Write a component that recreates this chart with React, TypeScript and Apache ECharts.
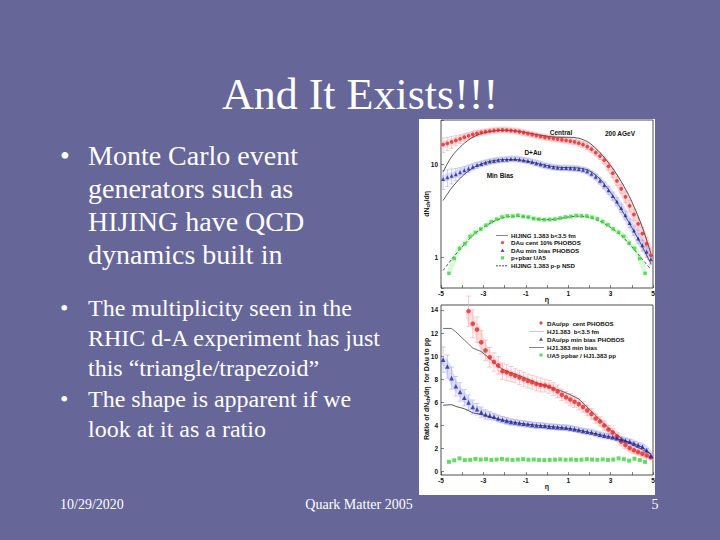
import React, { useEffect, useRef } from "react";
import * as echarts from "echarts";

// ---------- data ----------
const etaFine = [-4.9, -4.7, -4.5, -4.3, -4.1, -3.9, -3.7, -3.5, -3.3, -3.1, -2.9, -2.7, -2.5, -2.3, -2.1, -1.9, -1.7, -1.5, -1.3, -1.1, -0.9, -0.7, -0.5, -0.3, -0.1, 0.1, 0.3, 0.5, 0.7, 0.9, 1.1, 1.3, 1.5, 1.7, 1.9, 2.1, 2.3, 2.5, 2.7, 2.9, 3.1, 3.3, 3.5, 3.7, 3.9, 4.1, 4.3, 4.5, 4.7, 4.9];
const dAuCentral = [16.5, 17.0, 17.6, 18.3, 19.0, 19.8, 20.5, 21.2, 21.8, 22.3, 22.7, 23.1, 23.4, 23.6, 23.7, 23.6, 23.4, 23.1, 22.7, 22.2, 21.7, 21.2, 20.7, 20.2, 19.8, 19.5, 19.2, 18.9, 18.6, 18.3, 18.0, 17.6, 17.1, 16.5, 15.7, 14.7, 13.5, 12.4, 11.2, 9.6, 8.1, 6.7, 5.5, 4.5, 3.6, 2.9, 2.3, 1.8, 1.4, 1.05];
const dAuCentralErr = [3.0, 2.8, 2.6, 2.3, 2.0, 1.8, 1.6, 1.5, 1.4, 1.3, 1.2, 1.2, 1.2, 1.2, 1.2, 1.2, 1.2, 1.2, 1.2, 1.2, 1.1, 1.1, 1.1, 1.1, 1.1, 1.1, 1.1, 1.1, 1.1, 1.1, 1.1, 1.1, 1.1, 1.1, 1.1, 1.0, 1.0, 1.0, 0.9, 0.9, 0.8, 0.7, 0.6, 0.6, 0.5, 0.4, 0.35, 0.3, 0.25, 0.2];
const dAuMinBias = [7.0, 7.3, 7.6, 7.9, 8.3, 8.7, 9.1, 9.5, 9.9, 10.2, 10.5, 10.8, 11.0, 11.2, 11.3, 11.4, 11.5, 11.5, 11.4, 11.2, 11.0, 10.7, 10.4, 10.1, 9.8, 9.6, 9.4, 9.3, 9.2, 9.2, 9.15, 9.1, 9.0, 8.8, 8.5, 8.0, 7.4, 6.7, 6.0, 5.3, 4.6, 4.0, 3.4, 2.85, 2.35, 1.95, 1.6, 1.35, 1.15, 0.95];
const dAuMinBiasErr = [1.6, 1.5, 1.4, 1.2, 1.0, 0.9, 0.8, 0.7, 0.7, 0.6, 0.6, 0.6, 0.6, 0.6, 0.6, 0.6, 0.6, 0.6, 0.6, 0.6, 0.6, 0.6, 0.6, 0.6, 0.5, 0.5, 0.5, 0.5, 0.5, 0.5, 0.5, 0.5, 0.5, 0.5, 0.5, 0.5, 0.5, 0.5, 0.5, 0.5, 0.45, 0.4, 0.35, 0.3, 0.25, 0.22, 0.2, 0.18, 0.15, 0.12];

const etaUA5 = [-4.625, -4.375, -4.125, -3.875, -3.625, -3.375, -3.125, -2.875, -2.625, -2.375, -2.125, -1.875, -1.625, -1.375, -1.125, -0.875, -0.625, -0.375, -0.125, 0.125, 0.375, 0.625, 0.875, 1.125, 1.375, 1.625, 1.875, 2.125, 2.375, 2.625, 2.875, 3.125, 3.375, 3.625, 3.875, 4.125, 4.375, 4.625];
const ppUA5 = [0.67, 0.97, 1.25, 1.40, 1.68, 1.85, 2.02, 2.22, 2.42, 2.58, 2.72, 2.80, 2.78, 2.84, 2.76, 2.72, 2.62, 2.58, 2.55, 2.56, 2.58, 2.65, 2.72, 2.76, 2.82, 2.80, 2.79, 2.70, 2.60, 2.43, 2.24, 2.02, 1.86, 1.68, 1.42, 1.25, 0.97, 0.67];

const etaModel = [-4.9, -4.5, -4.0, -3.5, -3.0, -2.5, -2.0, -1.5, -1.0, -0.5, 0, 0.5, 1.0, 1.5, 2.0, 2.5, 3.0, 3.5, 4.0, 4.5, 4.9];
const hijingCentral = [8.4, 12.2, 16.3, 19.8, 22.0, 23.2, 23.5, 23.2, 22.3, 21.2, 20.3, 19.8, 19.8, 19.3, 17.2, 13.5, 9.8, 6.6, 4.0, 2.1, 1.1];
const hijingMinBias = [4.1, 5.6, 7.5, 9.2, 10.4, 11.1, 11.4, 11.4, 11.0, 10.4, 9.8, 9.4, 9.3, 9.2, 8.6, 7.0, 5.0, 3.3, 2.1, 1.3, 0.85];
const hijingPP = [0.72, 0.95, 1.3, 1.72, 2.1, 2.45, 2.7, 2.78, 2.72, 2.6, 2.55, 2.6, 2.72, 2.78, 2.7, 2.45, 2.1, 1.72, 1.3, 0.95, 0.74];

// ratio panel
const etaRatioCentral = [-3.7, -3.5, -3.3, -3.1, -2.9, -2.7, -2.5, -2.3, -2.1, -1.9, -1.7, -1.5, -1.3, -1.1, -0.9, -0.7, -0.5, -0.3, -0.1, 0.1, 0.3, 0.5, 0.7, 0.9, 1.1, 1.3, 1.5, 1.7, 1.9, 2.1, 2.3, 2.5, 2.7, 2.9, 3.1, 3.3, 3.5, 3.7, 3.9, 4.1, 4.3, 4.5, 4.7, 4.9];
const ratioCentral = [13.9, 12.8, 12.3, 11.2, 10.5, 9.9, 9.5, 9.2, 8.7, 8.6, 8.45, 8.3, 8.15, 8.0, 7.85, 7.75, 7.6, 7.5, 7.45, 7.35, 7.15, 6.95, 6.65, 6.45, 6.25, 6.05, 5.85, 5.6, 5.3, 5.0, 4.6, 4.35, 4.0, 3.65, 3.4, 3.05, 2.6, 2.3, 2.05, 1.85, 1.7, 1.55, 1.4, 1.25];
const ratioCentralErr = [1.3, 1.2, 1.1, 1.0, 0.9, 0.85, 0.8, 0.75, 0.7, 0.7, 0.65, 0.6, 0.6, 0.6, 0.6, 0.6, 0.6, 0.6, 0.55, 0.55, 0.55, 0.55, 0.5, 0.5, 0.5, 0.5, 0.5, 0.45, 0.45, 0.45, 0.4, 0.4, 0.4, 0.35, 0.35, 0.3, 0.3, 0.3, 0.25, 0.25, 0.25, 0.2, 0.2, 0.2];
const ratioMinBias = [9.7, 9.1, 8.1, 7.4, 6.9, 6.4, 6.0, 5.6, 5.4, 5.15, 4.95, 4.85, 4.75, 4.6, 4.5, 4.4, 4.3, 4.25, 4.2, 4.15, 4.1, 4.05, 4.0, 3.98, 3.95, 3.9, 3.88, 3.85, 3.82, 3.8, 3.75, 3.68, 3.6, 3.52, 3.46, 3.4, 3.3, 3.2, 3.12, 3.05, 2.98, 2.9, 2.8, 2.7, 2.6, 2.45, 2.3, 2.15, 1.85, 1.35];
const ratioMinBiasErr = [1.1, 1.0, 0.95, 0.85, 0.8, 0.7, 0.65, 0.6, 0.5, 0.45, 0.4, 0.35, 0.3, 0.3, 0.28, 0.28, 0.26, 0.25, 0.25, 0.25, 0.24, 0.24, 0.24, 0.23, 0.23, 0.23, 0.22, 0.22, 0.22, 0.22, 0.21, 0.21, 0.21, 0.2, 0.2, 0.2, 0.2, 0.2, 0.19, 0.19, 0.19, 0.18, 0.18, 0.18, 0.17, 0.17, 0.16, 0.16, 0.15, 0.15];
const ratioUA5 = [0.85, 0.98, 1.15, 1.0, 1.02, 1.1, 1.05, 1.08, 1.02, 1.05, 1.1, 1.05, 1.02, 1.05, 1.08, 1.03, 1.05, 1.02, 1.0, 1.02, 1.04, 1.06, 1.03, 1.05, 1.02, 1.04, 1.08, 1.05, 1.03, 1.06, 1.02, 1.05, 1.15, 1.08, 0.95, 1.12, 1.0, 0.85];
const etaRatioModel = [-4.9, -4.5, -4.3, -3.9, -3.5, -3.1, -2.7, -2.3, -1.9, -1.5, -1.0, -0.5, 0, 0.5, 1.0, 1.5, 2.0, 2.5, 3.0, 3.5, 4.0, 4.5, 4.9];
const hjRatioCentral = [12.4, 12.4, 12.1, 11.4, 10.7, 10.4, 9.8, 9.1, 8.7, 8.45, 8.1, 7.7, 7.4, 7.1, 6.75, 6.3, 5.4, 4.5, 3.6, 2.9, 2.35, 1.9, 1.55];
const hjRatioMinBias = [5.75, 5.8, 5.65, 5.45, 5.1, 4.95, 4.75, 4.55, 4.4, 4.25, 4.12, 4.02, 3.95, 3.85, 3.75, 3.6, 3.4, 3.2, 3.0, 2.75, 2.5, 2.1, 1.5];

const etaTicks = [-5, -3, -1, 1, 3, 5];
const ratioTicks = [0, 2, 4, 6, 8, 10, 12, 14];

const pairs = (xs: number[], ys: number[]) => xs.map((x, i) => [x, ys[i]]);
const triples = (xs: number[], ys: number[], es: number[]) => xs.map((x, i) => [x, ys[i], es[i]]);

const SERIF = "'Liberation Serif', 'Times New Roman', serif";
const SANS = "'Liberation Sans', Arial, sans-serif";
const RED = "#e4262c";
const BLUE = "#23239a";
const GREEN = "#3ed23e";

// legend icons: drawn inside a (w x 8) box; tiny specks at two corners fix the bounding box
const specks = (w: number) => ` M0,0L0.01,0L0.01,0.01Z M${w},8L${w - 0.01},8L${w - 0.01},7.99Z`;
const solidIcon = (w: number) => `path://M0,4.4L${w},4.4L${w},5.6L0,5.6Z` + specks(w);
const dashIcon = (w: number) => {
  let d = "";
  for (let x = 0; x < w; x += 6) d += `M${x},4.4L${Math.min(x + 4, w)},4.4L${Math.min(x + 4, w)},5.6L${x},5.6Z `;
  return "path://" + d + specks(w);
};
const circleIcon = (w: number, cx: number) => `path://M${cx - 3.4},4A3.4,3.4 0 1,1 ${cx + 3.4},4A3.4,3.4 0 1,1 ${cx - 3.4},4Z` + specks(w);
const triIcon = (w: number, cx: number) => `path://M${cx},0.4L${cx + 4},7.6L${cx - 4},7.6Z` + specks(w);
const rectIcon = (w: number, cx: number) => `path://M${cx - 3.2},0.8L${cx + 3.2},0.8L${cx + 3.2},7.2L${cx - 3.2},7.2Z` + specks(w);

const errorSeries = (name: string, xi: number, data: number[][], color: string, cap: number) => ({
  type: "custom",
  name,
  xAxisIndex: xi,
  yAxisIndex: xi,
  silent: true,
  z: 2,
  data,
  renderItem: (_p: any, api: any) => {
    const x = api.value(0), y = api.value(1), e = api.value(2);
    const top = api.coord([x, y + e]);
    const bot = api.coord([x, y - e]);
    const st = { stroke: color, lineWidth: 0.6 };
    return {
      type: "group",
      children: [
        { type: "line", shape: { x1: top[0], y1: top[1], x2: bot[0], y2: bot[1] }, style: st },
        { type: "line", shape: { x1: top[0] - cap, y1: top[1], x2: top[0] + cap, y2: top[1] }, style: st },
        { type: "line", shape: { x1: bot[0] - cap, y1: bot[1], x2: bot[0] + cap, y2: bot[1] }, style: st },
      ],
    };
  },
});

export default function App() {
  const ref = useRef<HTMLDivElement>(null);
  useEffect(() => {
    if (!ref.current) return;
    const chart = echarts.init(ref.current, undefined, { renderer: "svg" });

    const axisFont = { fontFamily: SANS, fontSize: 6.5, fontWeight: "bold" as const, color: "#111" };
    const tickStyle = { show: true, inside: true, length: 3, lineStyle: { color: "#333", width: 0.6 } };
    const xAxisCommon = (gridIndex: number) => ({
      type: "value" as const,
      gridIndex,
      min: -5,
      max: 5,
      interval: 1,
      axisLine: { show: false, onZero: false },
      splitLine: { show: false },
      axisTick: tickStyle,
      axisLabel: { ...axisFont, margin: 2, customValues: etaTicks },
    });

    const bulletLines1 = ["Monte Carlo event", "generators such as", "HIJING have QCD", "dynamics built in"];
    const bulletLines2a = ["The multiplicity seen in the", "RHIC d-A experiment has just", "this \u201Ctriangle/trapezoid\u201D"];
    const bulletLines2b = ["The shape is apparent if we", "look at it as a ratio"];

    const serifText = (t: string, x: number, y: number, size: number, align = "left") => ({
      type: "text", x, y,
      style: { text: t, fill: "#fff", fontFamily: SERIF, fontSize: size, align, verticalAlign: "middle" },
    });

    const texts: any[] = [];
    texts.push(serifText("And It Exists!!!", 360, 94, 44, "center"));
    const addBullet = (lines: string[], y0: number, step: number, size: number) => {
      texts.push(serifText("\u2022", 60, y0, size));
      lines.forEach((t, i) => texts.push(serifText(t, 88, y0 + i * step, size)));
    };
    addBullet(bulletLines1, 155, 33, 28);
    addBullet(bulletLines2a, 308, 30, 24);
    addBullet(bulletLines2b, 399, 30, 24);
    texts.push(serifText("10/29/2020", 60, 504, 14));
    texts.push(serifText("Quark Matter 2005", 359, 504, 14, "center"));
    texts.push(serifText("5", 655, 504, 14, "center"));

    const plotText = (t: string, x: number, y: number, size = 6.5, align = "center") => ({
      type: "text", x, y, z: 50,
      style: { text: t, fill: "#111", fontFamily: SANS, fontSize: size, fontWeight: "bold", align, verticalAlign: "middle" },
    });

    // rotated axis titles with a subscript "ch"
    const rotatedTitle = (cx: number, cy: number, pre: string, post: string, preW: number, postW: number) => {
      const subW = 5.9;
      const start = -(preW + subW + postW) / 2;
      return {
        type: "group", x: cx, y: cy, rotation: Math.PI / 2, z: 50,
        children: [
          { type: "text", x: start, y: 0, style: { text: pre, fill: "#111", fontFamily: SANS, fontSize: 7, fontWeight: "bold", align: "left", verticalAlign: "middle" } },
          { type: "text", x: start + preW, y: 2, style: { text: "ch", fill: "#111", fontFamily: SANS, fontSize: 5, fontWeight: "bold", align: "left", verticalAlign: "middle" } },
          { type: "text", x: start + preW + subW, y: 0, style: { text: post, fill: "#111", fontFamily: SANS, fontSize: 7, fontWeight: "bold", align: "left", verticalAlign: "middle" } },
        ],
      };
    };

    const legendText = { fontFamily: SANS, fontSize: 6.2, fontWeight: "bold", color: "#111", padding: [0, 0, 0, -2] };

    const option: any = {
      animation: false,
      backgroundColor: "#666699",
      graphic: [
        { type: "rect", z: -10, shape: { x: 419, y: 119, width: 236, height: 376 }, style: { fill: "#ffffff" } },
        ...texts,
        plotText("Central", 561, 132),
        plotText("200 AGeV", 620, 133),
        plotText("D+Au", 533, 152),
        plotText("Min Bias", 500, 175),
        plotText("η", 547, 299, 7),
        plotText("η", 547, 486, 7),
        rotatedTitle(426, 204, "dN", "/dη", 9.4, 10.4),
        rotatedTitle(426, 390, "Ratio of dN", "/dη  for DAu to pp", 37.3, 57),
      ],
      grid: [
        { left: 441, top: 120, width: 212, height: 168, show: true, borderColor: "#222", borderWidth: 0.8, backgroundColor: "transparent" },
        { left: 441, top: 305, width: 212, height: 170, show: true, borderColor: "#222", borderWidth: 0.8, backgroundColor: "transparent" },
      ],
      xAxis: [xAxisCommon(0), xAxisCommon(1)],
      yAxis: [
        {
          type: "log", gridIndex: 0, logBase: 10, min: 0.466, max: 30.4,
          axisLine: { show: false, onZero: false }, splitLine: { show: false },
          axisTick: tickStyle,
          axisLabel: {
            ...axisFont, margin: 3,
            formatter: (v: number) => (Math.abs(v - 1) < 1e-6 ? "1" : Math.abs(v - 10) < 1e-5 ? "10" : ""),
          },
        },
        {
          type: "value", gridIndex: 1, min: -0.29, max: 14.43,
          axisLine: { show: false, onZero: false }, splitLine: { show: false },
          axisTick: { ...tickStyle, customValues: ratioTicks },
          axisLabel: { ...axisFont, margin: 3, customValues: ratioTicks },
        },
      ],
      legend: [
        {
          orient: "vertical", left: 496, top: 232, itemWidth: 12, itemHeight: 4, itemGap: 1.6,
          padding: 0, textStyle: legendText, selectedMode: false,
          data: [
            { name: "HIJING 1.383 b<3.5 fm", icon: solidIcon(24), itemStyle: { color: "#111", opacity: 1 } },
            { name: "DAu cent 10% PHOBOS", icon: circleIcon(24, 13) },
            { name: "DAu min bias PHOBOS", icon: triIcon(24, 13) },
            { name: "p+pbar UA5", icon: rectIcon(24, 13) },
            { name: "HIJING 1.383 p-p NSD", icon: dashIcon(24), itemStyle: { color: "#111", opacity: 1 } },
          ],
        },
        {
          orient: "vertical", left: 529, top: 320, itemWidth: 15, itemHeight: 4, itemGap: 2,
          padding: 0, textStyle: legendText, selectedMode: false,
          data: [
            { name: "DAu/pp  cent PHOBOS", icon: circleIcon(30, 24) },
            { name: "HJ1.383  b<3.5 fm", icon: solidIcon(30), itemStyle: { color: "#999", opacity: 1 } },
            { name: "DAu/pp min bias PHOBOS", icon: triIcon(30, 24) },
            { name: "HJ1.383 min bias", icon: solidIcon(30), itemStyle: { color: "#111", opacity: 1 } },
            { name: "UA5 ppbar / HJ1.383 pp", icon: rectIcon(30, 24) },
          ],
        },
      ],
      series: [
        // ---- top panel: bands ----
        { type: "line", name: "band-red", xAxisIndex: 0, yAxisIndex: 0, data: pairs(etaFine, dAuCentral), symbol: "none", silent: true, smooth: true, lineStyle: { width: 7, color: "rgba(245,140,140,0.32)" }, z: 1 },
        { type: "line", name: "band-blue", xAxisIndex: 0, yAxisIndex: 0, data: pairs(etaFine, dAuMinBias), symbol: "none", silent: true, smooth: true, lineStyle: { width: 7, color: "rgba(140,150,245,0.32)" }, z: 1 },
        { type: "line", name: "band-green", xAxisIndex: 0, yAxisIndex: 0, data: pairs(etaUA5, ppUA5), symbol: "none", silent: true, smooth: true, lineStyle: { width: 5, color: "rgba(140,235,140,0.32)" }, z: 1 },
        errorSeries("err-red", 0, triples(etaFine, dAuCentral, dAuCentralErr), "#f2a9a9", 2.2),
        errorSeries("err-blue", 0, triples(etaFine, dAuMinBias, dAuMinBiasErr), "#a9a9ee", 2.2),
        // ---- top panel: models ----
        { type: "line", name: "HIJING 1.383 b<3.5 fm", xAxisIndex: 0, yAxisIndex: 0, data: pairs(etaModel, hijingCentral), symbol: "none", smooth: 0.3, lineStyle: { width: 0.7, color: "#111" }, itemStyle: { color: "#111" }, z: 3 },
        { type: "line", name: "HIJING 1.383 min bias (top)", xAxisIndex: 0, yAxisIndex: 0, data: pairs(etaModel, hijingMinBias), symbol: "none", smooth: 0.3, lineStyle: { width: 0.7, color: "#111" }, z: 3 },
        { type: "line", name: "HIJING 1.383 p-p NSD", xAxisIndex: 0, yAxisIndex: 0, data: pairs(etaModel, hijingPP), symbol: "none", smooth: 0.3, lineStyle: { width: 0.7, color: "#111", type: [3, 2] }, itemStyle: { color: "#111" }, z: 3 },
        // ---- top panel: data ----
        { type: "scatter", name: "DAu cent 10% PHOBOS", xAxisIndex: 0, yAxisIndex: 0, data: pairs(etaFine, dAuCentral), symbol: "circle", symbolSize: 3.8, itemStyle: { color: RED }, z: 5 },
        { type: "scatter", name: "DAu min bias PHOBOS", xAxisIndex: 0, yAxisIndex: 0, data: pairs(etaFine, dAuMinBias), symbol: "triangle", symbolSize: 4, itemStyle: { color: BLUE }, z: 5 },
        { type: "scatter", name: "p+pbar UA5", xAxisIndex: 0, yAxisIndex: 0, data: pairs(etaUA5, ppUA5), symbol: "rect", symbolSize: 3.5, itemStyle: { color: GREEN }, z: 5 },

        // ---- bottom panel: bands ----
        { type: "line", name: "band-red-2", xAxisIndex: 1, yAxisIndex: 1, data: pairs(etaRatioCentral, ratioCentral), symbol: "none", silent: true, smooth: true, lineStyle: { width: 8, color: "rgba(245,140,140,0.28)" }, z: 1 },
        { type: "line", name: "band-blue-2", xAxisIndex: 1, yAxisIndex: 1, data: pairs(etaFine, ratioMinBias), symbol: "none", silent: true, smooth: true, lineStyle: { width: 7, color: "rgba(140,150,245,0.32)" }, z: 1 },
        errorSeries("err-red-2", 1, triples(etaRatioCentral, ratioCentral, ratioCentralErr), "#f2a9a9", 2.5),
        errorSeries("err-blue-2", 1, triples(etaFine, ratioMinBias, ratioMinBiasErr), "#a9a9ee", 2.5),
        // ---- bottom panel: models ----
        { type: "line", name: "HJ1.383  b<3.5 fm", xAxisIndex: 1, yAxisIndex: 1, data: pairs(etaRatioModel, hjRatioCentral), symbol: "none", lineStyle: { width: 0.7, color: "#333" }, itemStyle: { color: "#999" }, z: 3 },
        { type: "line", name: "HJ1.383 min bias", xAxisIndex: 1, yAxisIndex: 1, data: pairs(etaRatioModel, hjRatioMinBias), symbol: "none", lineStyle: { width: 0.7, color: "#111" }, itemStyle: { color: "#111" }, z: 3 },
        // ---- bottom panel: data ----
        { type: "scatter", name: "DAu/pp  cent PHOBOS", xAxisIndex: 1, yAxisIndex: 1, data: pairs(etaRatioCentral, ratioCentral), symbol: "circle", symbolSize: 4.6, itemStyle: { color: RED }, z: 5 },
        { type: "scatter", name: "DAu/pp min bias PHOBOS", xAxisIndex: 1, yAxisIndex: 1, data: pairs(etaFine, ratioMinBias), symbol: "triangle", symbolSize: 4.6, itemStyle: { color: BLUE }, z: 5 },
        { type: "scatter", name: "UA5 ppbar / HJ1.383 pp", xAxisIndex: 1, yAxisIndex: 1, data: pairs(etaUA5, ratioUA5), symbol: "rect", symbolSize: 4, itemStyle: { color: GREEN }, z: 5 },
      ],
    };
    chart.setOption(option);
    return () => chart.dispose();
  }, []);
  return <div ref={ref} style={{ position: "absolute", left: 0, top: 0, width: 720, height: 540 }} />;
}
